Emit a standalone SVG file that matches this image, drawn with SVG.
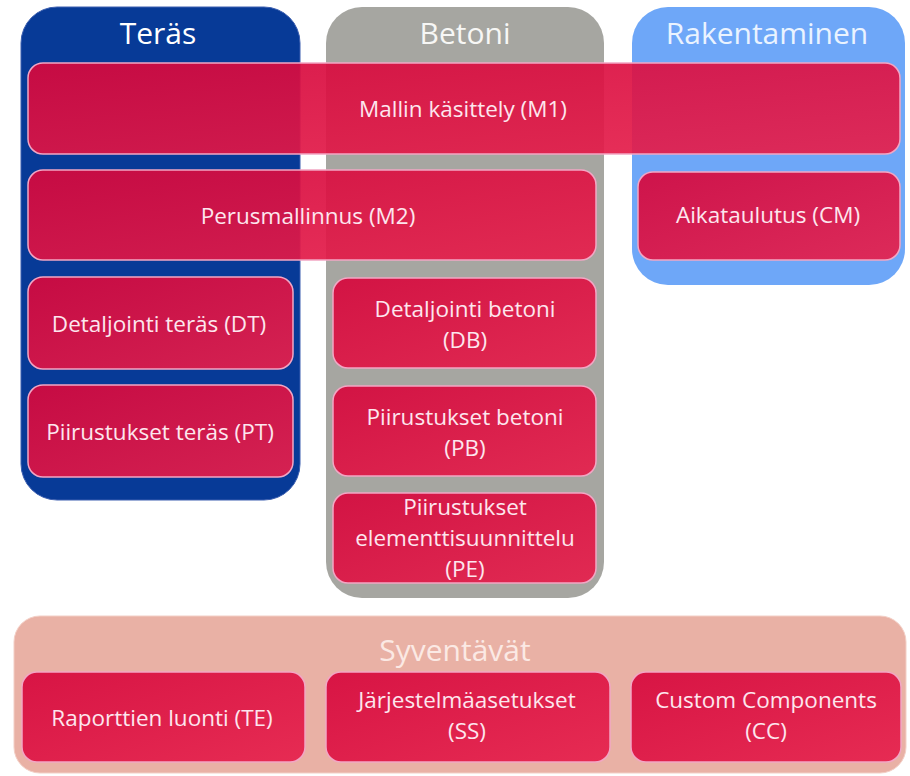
<svg xmlns="http://www.w3.org/2000/svg" width="910" height="776" viewBox="0 0 910 776">
<defs>
<linearGradient id="bx" x1="0" y1="0" x2="1" y2="1">
<stop offset="0" stop-color="#D6073C"/>
<stop offset="1" stop-color="#E6204C"/>
</linearGradient>
</defs>
<style>
.box{fill:url(#bx);fill-opacity:0.92;stroke:#F2A6C4;stroke-width:1.5}
.lbl{font-family:"Open Sans",Lato,sans-serif;font-size:22.5px;fill:#FDE6EE;text-anchor:middle}
.hdr{font-family:"Open Sans",Lato,sans-serif;font-size:30px;fill:#FFFFFF;text-anchor:middle}
</style>
<rect width="910" height="776" fill="#FFFFFF"/>
<g id="container-teras">
<rect x="21" y="7" width="279" height="493" rx="36" fill="#073A97" stroke="#3C5FB0" stroke-width="1"/>
<text class="hdr" x="158" y="44">Teräs</text>
</g>
<g id="container-betoni">
<rect x="326" y="7" width="278" height="591" rx="36" fill="#A6A6A1"/>
<text class="hdr" x="465" y="44" style="fill:#F7F7F5">Betoni</text>
</g>
<g id="container-rakentaminen">
<rect x="632" y="7" width="273" height="278" rx="36" fill="#6EA7F8"/>
<text class="hdr" x="767" y="44" style="fill:#EAF3FF">Rakentaminen</text>
</g>
<g id="container-syventavat">
<rect x="14" y="616" width="892" height="157" rx="26" fill="#E9B1A5" stroke="#F3CFC6" stroke-width="1"/>
<text class="hdr" x="455" y="661" style="fill:#FBE9E4">Syventävät</text>
</g>
<g id="connectors"></g>
<g id="M1">
<rect class="box" x="28" y="63" width="872" height="91" rx="15"/>
<text class="lbl" x="463" y="117">Mallin käsittely (M1)</text>
</g>
<g id="M2">
<rect class="box" x="28" y="170" width="568" height="90" rx="15"/>
<text class="lbl" x="308" y="224">Perusmallinnus (M2)</text>
</g>
<g id="CM">
<rect class="box" x="638" y="172" width="262" height="88" rx="15"/>
<text class="lbl" x="768" y="223">Aikataulutus (CM)</text>
</g>
<g id="DT">
<rect class="box" x="28" y="277" width="265" height="92" rx="15"/>
<text class="lbl" x="159" y="332">Detaljointi teräs (DT)</text>
</g>
<g id="PT">
<rect class="box" x="28" y="385" width="265" height="92" rx="15"/>
<text class="lbl" x="160" y="440">Piirustukset teräs (PT)</text>
</g>
<g id="DB">
<rect class="box" x="333" y="278" width="263" height="90" rx="15"/>
<text class="lbl" x="465" y="317">Detaljointi betoni</text>
<text class="lbl" x="465" y="348">(DB)</text>
</g>
<g id="PB">
<rect class="box" x="333" y="386" width="263" height="90" rx="15"/>
<text class="lbl" x="465" y="425">Piirustukset betoni</text>
<text class="lbl" x="465" y="456">(PB)</text>
</g>
<g id="PE">
<rect class="box" x="333" y="493" width="263" height="90" rx="15"/>
<text class="lbl" x="465" y="515">Piirustukset</text>
<text class="lbl" x="465" y="546">elementtisuunnittelu</text>
<text class="lbl" x="465" y="577">(PE)</text>
</g>
<g id="TE">
<rect class="box" x="22" y="672" width="283" height="90" rx="15"/>
<text class="lbl" x="162" y="726">Raporttien luonti (TE)</text>
</g>
<g id="SS">
<rect class="box" x="326" y="672" width="284" height="90" rx="15"/>
<text class="lbl" x="467" y="708">Järjestelmäasetukset</text>
<text class="lbl" x="467" y="739">(SS)</text>
</g>
<g id="CC">
<rect class="box" x="631" y="672" width="270" height="90" rx="15"/>
<text class="lbl" x="766" y="708">Custom Components</text>
<text class="lbl" x="766" y="739">(CC)</text>
</g>
</svg>
